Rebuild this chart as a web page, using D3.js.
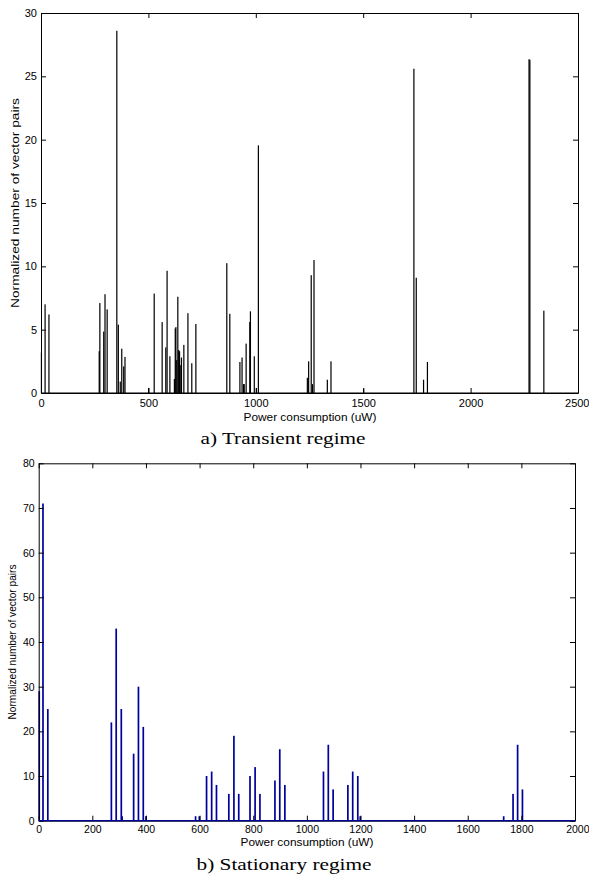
<!DOCTYPE html>
<html>
<head>
<meta charset="utf-8">
<script src="https://cdn.jsdelivr.net/npm/d3@7"></script>
<style>
  body { margin: 0; background: #fff; }
  svg { display: block; }
  .tick text { font-family: "Liberation Sans", Arial, sans-serif; font-size: 11px; fill: #000; }
  .axis path, .axis line { stroke: #000; stroke-width: 1; }
  .label { font-family: "Liberation Sans", Arial, sans-serif; fill: #000; }
  .caption { font-family: "Liberation Serif", "Times New Roman", serif; fill: #000; }
</style>
</head>
<body>
<script>
// a) transient regime: power (uW) and normalized count
var transientPower = [2, 19, 37, 271, 274, 292, 298, 308, 353, 360, 369, 376, 385, 391,
  501, 527, 564, 581, 587, 600, 621, 625, 628, 632, 637, 641, 645, 648, 654, 665, 684, 702, 721,
  865, 879, 926, 936, 943, 946, 955, 972, 975, 993, 1003, 1012,
  1240, 1246, 1258, 1264, 1271, 1333, 1350, 1502,
  1736, 1747, 1781, 1799, 2272, 2276, 2341];
var transientCount = [3.2, 7.0, 6.2, 3.3, 7.1, 4.85, 7.8, 6.6, 28.6, 5.4, 0.9, 3.5, 2.1, 2.85,
  0.4, 7.85, 5.6, 3.6, 9.65, 2.9, 1.1, 5.1, 5.2, 2.6, 7.6, 3.4, 3.3, 2.2, 2.8, 3.8, 6.3, 2.35, 5.45,
  10.25, 6.25, 2.45, 2.8, 0.7, 0.7, 3.9, 5.6, 6.45, 2.9, 0.4, 19.55,
  1.2, 2.5, 9.3, 0.7, 10.5, 1.05, 2.5, 0.35,
  25.6, 9.1, 1.05, 2.45, 26.35, 26.3, 6.5];
var transientXTicks = [0, 500, 1000, 1500, 2000, 2500];
var transientYTicks = [0, 5, 10, 15, 20, 25, 30];

// b) stationary regime
var stationaryPower = [2, 16, 34, 271, 289, 308, 311, 354, 372, 390, 400,
  585, 599, 626, 645, 663, 709, 728, 746, 788, 807, 825, 881, 899, 918,
  1062, 1080, 1098, 1153, 1171, 1190, 1199, 1734, 1769, 1786, 1804];
var stationaryCount = [29, 71, 25, 22, 43, 25, 1, 15, 30, 21, 1,
  1, 1, 10, 11, 8, 6, 19, 6, 10, 12, 6, 9, 16, 8,
  11, 17, 7, 8, 11, 10, 1, 1, 6, 17, 7];
var stationaryXTicks = [0, 200, 400, 600, 800, 1000, 1200, 1400, 1600, 1800, 2000];
var stationaryYTicks = [0, 10, 20, 30, 40, 50, 60, 70, 80];

var svg = d3.select("body").append("svg")
  .attr("width", 589)
  .attr("height", 878);

var drawPanel = function(p){
  //scales
  var xMax = p.xTicks[p.xTicks.length-1];
  var x = d3.scaleLinear().domain([0, xMax]).range([p.left, p.right]);
  var y = d3.scaleLinear().domain([0, p.yTicks[p.yTicks.length-1]]).range([p.bottom, p.top]);

  var g = svg.append("g");

  //bars
  g.selectAll("rect.bar")
    .data(p.xs.map(function(v, i){ return {x: v, y: p.ys[i]}; }))
    .enter().append("rect")
    .attr("class", "bar")
    .attr("x", function(d){ return x(d.x) - p.barW/2; })
    .attr("y", function(d){ return y(d.y); })
    .attr("width", p.barW)
    .attr("height", function(d){ return y(0) - y(d.y); })
    .attr("fill", p.color);

  //axes, ticks pointing inward like matlab
  var xAxis = g.append("g").attr("class", "axis")
    .attr("transform", "translate(0," + p.bottom + ")")
    .call(d3.axisBottom(x).tickValues(p.xTicks).tickFormat(d3.format("d"))
      .tickSizeInner(-5).tickSizeOuter(0).tickPadding(p.xPad));
  g.append("g").attr("class", "axis")
    .attr("transform", "translate(0," + p.top + ")")
    .call(d3.axisTop(x).tickValues(p.xTicks).tickSizeInner(-5).tickSizeOuter(0).tickFormat(""));
  g.append("g").attr("class", "axis")
    .attr("transform", "translate(" + p.left + ",0)")
    .call(d3.axisLeft(y).tickValues(p.yTicks).tickFormat(d3.format("d"))
      .tickSizeInner(-5).tickSizeOuter(0).tickPadding(4));
  g.append("g").attr("class", "axis")
    .attr("transform", "translate(" + p.right + ",0)")
    .call(d3.axisRight(y).tickValues(p.yTicks).tickSizeInner(-5).tickSizeOuter(0).tickFormat(""));

  g.selectAll(".tick text").style("font-size", p.tickFont + "px");

  //keep the last x label inside the page
  xAxis.selectAll(".tick text")
    .filter(function(d){ return d == xMax; })
    .attr("text-anchor", "end")
    .attr("x", 589 - p.right);

  //zero baseline in bar colour
  g.append("line")
    .attr("x1", x(0)).attr("x2", x(xMax))
    .attr("y1", y(0)).attr("y2", y(0))
    .attr("stroke", p.color).attr("stroke-width", 1.2);

  //labels
  g.append("text").attr("class", "label")
    .attr("transform", "translate(" + p.yLabelX + "," + ((p.top + p.bottom)/2) + ") rotate(-90)")
    .attr("text-anchor", "middle")
    .attr("dy", "0.35em")
    .style("font-size", "10px")
    .attr("textLength", p.yLabelLen)
    .attr("lengthAdjust", "spacingAndGlyphs")
    .text("Normalized number of vector pairs");

  g.append("text").attr("class", "label")
    .attr("x", p.xLabelX).attr("y", p.xLabelY)
    .attr("text-anchor", "middle")
    .style("font-size", "11px")
    .attr("textLength", 133)
    .attr("lengthAdjust", "spacingAndGlyphs")
    .text("Power consumption (uW)");

  g.append("text").attr("class", "caption")
    .attr("x", p.capX).attr("y", p.capY)
    .attr("text-anchor", "middle")
    .style("font-size", "17px")
    .attr("textLength", p.capLen)
    .attr("lengthAdjust", "spacingAndGlyphs")
    .text(p.caption);
};

drawPanel({
  xs: transientPower, ys: transientCount, xTicks: transientXTicks, yTicks: transientYTicks,
  left: 41, right: 578, top: 13, bottom: 393,
  color: "#000", barW: 1.2, xPad: 6, tickFont: 11,
  yLabelX: 15, yLabelLen: 210,
  xLabelX: 310, xLabelY: 421,
  capX: 283, capY: 444, capLen: 165, caption: "a) Transient regime"
});

drawPanel({
  xs: stationaryPower, ys: stationaryCount, xTicks: stationaryXTicks, yTicks: stationaryYTicks,
  left: 38.7, right: 575, top: 463.3, bottom: 820.7,
  color: "#00009c", barW: 1.7, xPad: 5, tickFont: 10.5,
  yLabelX: 12.5, yLabelLen: 155,
  xLabelX: 307, xLabelY: 846,
  capX: 284, capY: 870, capLen: 175, caption: "b) Stationary regime"
});
</script>
</body>
</html>
